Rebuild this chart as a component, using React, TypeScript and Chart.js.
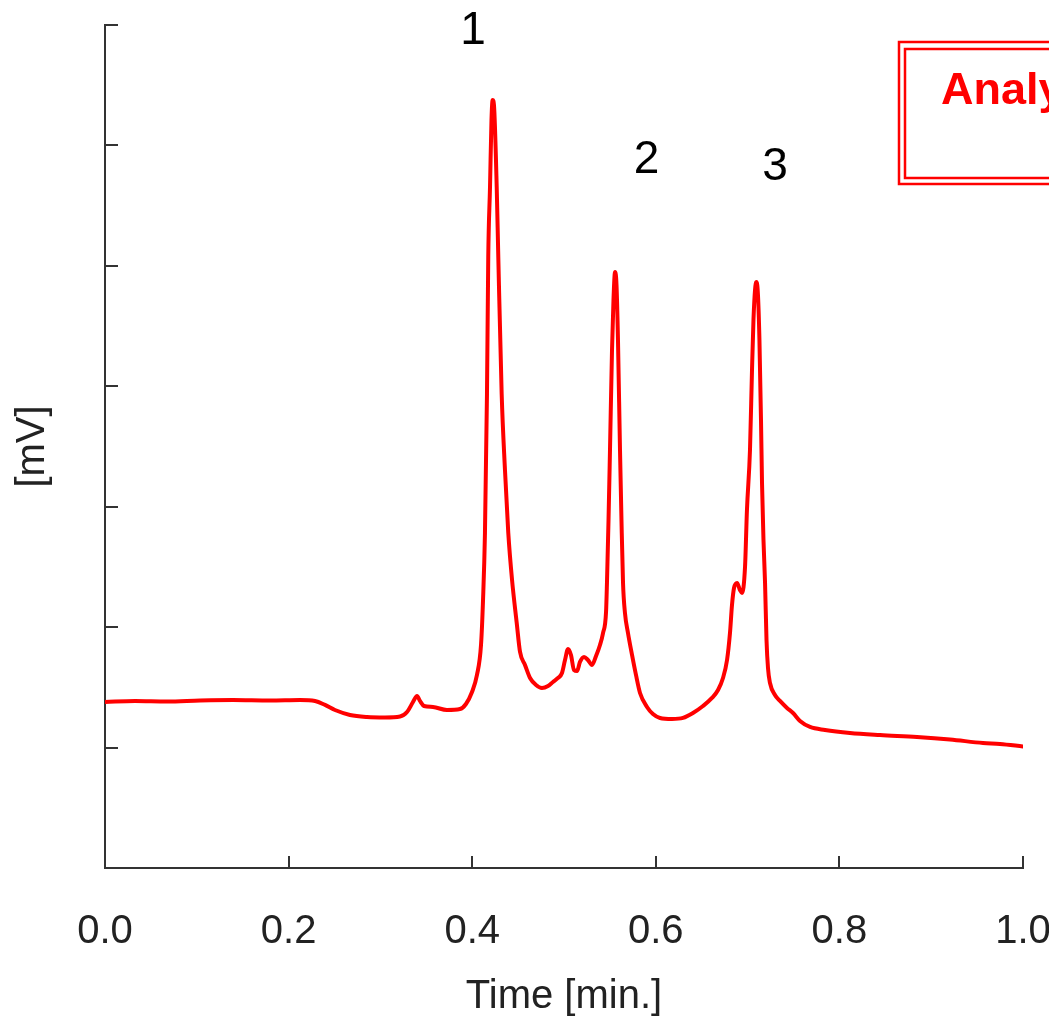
import React, { useEffect, useRef } from 'react';
import { Chart, registerables } from 'chart.js';

Chart.register(...registerables);

// Chromatogram trace: retention time [min.] and detector signal [mV]
const TIME_MIN = [
  0, 0.0327, 0.0675, 0.1035, 0.1394, 0.1797, 0.2124, 0.2288, 0.2397, 0.2505,
  0.2669, 0.2854, 0.305, 0.3214, 0.329, 0.3355, 0.3399, 0.3431, 0.3475, 0.3573,
  0.3725, 0.3867, 0.3932, 0.3998, 0.4052, 0.4096, 0.4118, 0.4139, 0.4161, 0.4175,
  0.4194, 0.421, 0.4223, 0.4237, 0.4267, 0.4284, 0.4321, 0.4357, 0.4393, 0.4434,
  0.4485, 0.4521, 0.4575, 0.463, 0.4695, 0.476, 0.4826, 0.488, 0.4935, 0.4978,
  0.5011, 0.5044, 0.5076, 0.5109, 0.5142, 0.5174, 0.5218, 0.5261, 0.5305, 0.5349,
  0.5392, 0.5425, 0.5458, 0.5468, 0.5485, 0.5501, 0.5523, 0.5539, 0.5556, 0.5572,
  0.5588, 0.561, 0.5626, 0.5643, 0.5664, 0.5697, 0.5741, 0.5784, 0.5828, 0.5904,
  0.5969, 0.6046, 0.6176, 0.6296, 0.6405, 0.6514, 0.6612, 0.6678, 0.6732, 0.6776,
  0.6808, 0.683, 0.6852, 0.6885, 0.6917, 0.6939, 0.6972, 0.6993, 0.7026, 0.7048,
  0.7064, 0.7081, 0.7097, 0.7113, 0.7129, 0.7146, 0.7157, 0.7173, 0.719, 0.7206,
  0.7222, 0.7244, 0.7298, 0.7353, 0.7429, 0.7495, 0.7571, 0.768, 0.7843, 0.8115,
  0.8442, 0.8845, 0.9205, 0.9564, 0.9749, 1.0,
];

const SIGNAL_MV = [
  13.78, 13.87, 13.83, 13.91, 13.95, 13.91, 13.95, 13.87, 13.54, 13.12,
  12.71, 12.54, 12.5, 12.58, 12.95, 13.78, 14.28, 13.87, 13.45, 13.37,
  13.12, 13.2, 13.62, 14.61, 16.03, 18.52, 22.25, 27.82, 39.36, 50.82,
  56.55, 62.11, 63.78, 63.36, 56.55, 50.82, 39.36, 33.05, 27.82, 23.92,
  20.35, 17.94, 16.86, 15.78, 15.2, 14.95, 15.11, 15.45, 15.78, 16.19,
  17.27, 18.19, 17.69, 16.44, 16.36, 17.11, 17.52, 17.27, 16.86, 17.6,
  18.52, 19.51, 21.26, 23.67, 28.9, 34.71, 43.01, 47.17, 49.49, 48.41,
  43.85, 34.71, 28.9, 23.67, 21.18, 19.51, 17.69, 16.03, 14.53, 13.37,
  12.79, 12.46, 12.37, 12.46, 12.87, 13.45, 14.12, 14.78, 15.78, 17.27,
  19.51, 21.84, 23.25, 23.67, 23.08, 22.84, 25.0, 29.73, 34.71, 41.35,
  45.51, 48.0, 48.66, 47.58, 43.85, 37.2, 31.97, 27.24, 23.67, 18.93,
  16.61, 15.36, 14.37, 13.87, 13.29, 12.87, 12.21, 11.71, 11.46, 11.21,
  11.04, 10.88, 10.67, 10.38, 10.3, 10.09,
];

// Peak number annotations (time, signal position of the label)
const PEAK_LABELS = ['1', '2', '3'];
const PEAK_LABEL_TIMES = [0.401, 0.59, 0.73];
const PEAK_LABEL_MV = [69.5, 58.8, 58.2];

// Axis settings
const X_MIN = 0;
const X_MAX = 1.0;
const X_STEP = 0.2;
const Y_MIN = 0;
const Y_MAX = 70;
const Y_STEP = 10;

const X_TITLE = 'Time [min.]';
const Y_TITLE = '[mV]';
const BOX_TEXT = 'Analysis';
const BOX_TIME = 0.865;
const BOX_TOP_MV = 68.6;
const BOX_BOTTOM_MV = 56.8;

const FONT = '"Liberation Sans", Arial, Helvetica, sans-serif';

const decorPlugin = {
  id: 'decor',
  afterDraw(chart: any) {
    const { ctx, chartArea, scales } = chart;
    const x = scales.x;
    const y = scales.y;
    ctx.save();
    // inward tick marks
    ctx.strokeStyle = '#333';
    ctx.lineWidth = 2;
    x.ticks.forEach((t: any) => {
      const px = Math.round(x.getPixelForValue(t.value));
      ctx.beginPath();
      ctx.moveTo(px, chartArea.bottom);
      ctx.lineTo(px, chartArea.bottom - 12);
      ctx.stroke();
    });
    y.ticks.forEach((t: any) => {
      const py = Math.round(y.getPixelForValue(t.value));
      ctx.beginPath();
      ctx.moveTo(chartArea.left, py);
      ctx.lineTo(chartArea.left + 13, py);
      ctx.stroke();
    });

    // peak numbers
    ctx.fillStyle = '#000';
    ctx.font = `46px ${FONT}`;
    ctx.textAlign = 'center';
    ctx.textBaseline = 'middle';
    PEAK_LABELS.forEach((lab, i) => {
      ctx.fillText(lab, x.getPixelForValue(PEAK_LABEL_TIMES[i]), y.getPixelForValue(PEAK_LABEL_MV[i]));
    });

    // double-bordered red box
    const bx = Math.round(x.getPixelForValue(BOX_TIME));
    const by1 = Math.round(y.getPixelForValue(BOX_TOP_MV));
    const by2 = Math.round(y.getPixelForValue(BOX_BOTTOM_MV));
    const w = chart.width - bx + 20;
    ctx.strokeStyle = '#ff0000';
    ctx.lineWidth = 2.5;
    ctx.strokeRect(bx, by1, w, by2 - by1);
    ctx.strokeRect(bx + 6, by1 + 7, w, by2 - by1 - 13);
    ctx.fillStyle = '#ff0000';
    ctx.font = `bold 45px ${FONT}`;
    ctx.textAlign = 'left';
    ctx.textBaseline = 'alphabetic';
    ctx.fillText(BOX_TEXT, bx + 42, by1 + 62);
    ctx.restore();
  },
};

export default function App() {
  const canvasRef = useRef<HTMLCanvasElement | null>(null);

  useEffect(() => {
    const canvas = canvasRef.current;
    if (!canvas) return;
    const data = TIME_MIN.map((t, i) => ({ x: t, y: SIGNAL_MV[i] }));
    const chart = new Chart(canvas, {
      type: 'line',
      data: {
        datasets: [
          {
            data,
            borderColor: '#ff0000',
            borderWidth: 4,
            pointRadius: 0,
            fill: false,
            cubicInterpolationMode: 'monotone',
            borderJoinStyle: 'round',
            borderCapStyle: 'round',
          },
        ],
      },
      options: {
        responsive: false,
        animation: false,
        devicePixelRatio: 1,
        layout: { padding: { top: 25, right: 26, bottom: 0, left: 0 } },
        plugins: { legend: { display: false }, tooltip: { enabled: false } },
        scales: {
          x: {
            type: 'linear',
            min: X_MIN,
            max: X_MAX,
            ticks: {
              stepSize: X_STEP,
              padding: 40,
              color: '#222',
              font: { family: FONT, size: 40 },
              maxRotation: 0,
              autoSkip: false,
              callback: (v: any) => Number(v).toFixed(1),
            },
            grid: { display: false, drawTicks: false },
            border: { display: true, color: '#333', width: 2 },
            title: {
              display: true,
              text: X_TITLE,
              color: '#222',
              font: { family: FONT, size: 40 },
              padding: { top: 0, bottom: -4 },
            },
            afterFit: (s: any) => {
              s.height = 149;
              s.paddingLeft = 0;
              s.paddingRight = 0;
            },
          },
          y: {
            type: 'linear',
            min: Y_MIN,
            max: Y_MAX,
            ticks: { stepSize: Y_STEP, display: false },
            grid: { display: false, drawTicks: false },
            border: { display: true, color: '#333', width: 2 },
            title: {
              display: true,
              text: Y_TITLE,
              color: '#222',
              font: { family: FONT, size: 40 },
              padding: { top: 9, bottom: 0 },
            },
            afterFit: (s: any) => {
              s.width = 105;
              s.paddingTop = 0;
              s.paddingBottom = 0;
            },
          },
        },
      },
      plugins: [decorPlugin],
    } as any);
    return () => chart.destroy();
  }, []);

  return (
    <div style={{ position: 'fixed', left: 0, top: 0, width: 1049, height: 1017, background: '#fff', overflow: 'hidden' }}>
      <canvas ref={canvasRef} width={1049} height={1017} style={{ display: 'block', width: 1049, height: 1017 }} />
    </div>
  );
}
